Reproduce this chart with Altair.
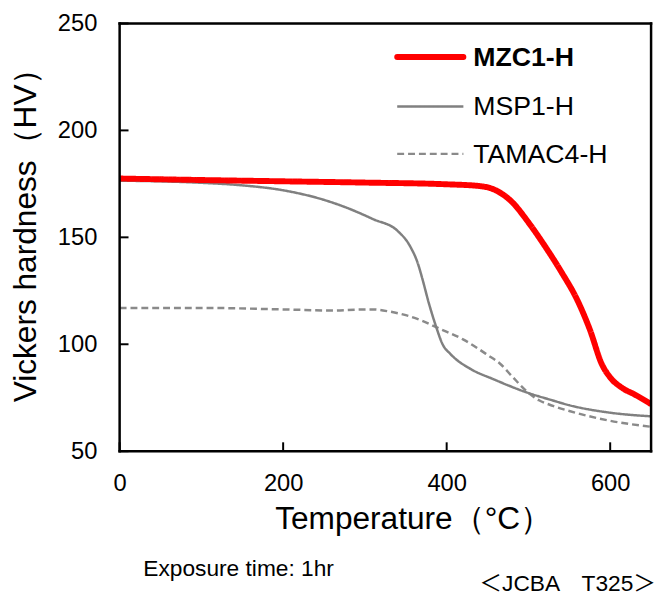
import altair as alt
import pandas as pd

FONT = "Liberation Sans, Noto Sans CJK JP, sans-serif"

# ---- data ----
mzc_temp = [0, 100, 200, 300, 400, 440, 460, 480, 500, 520, 540, 560, 575, 590, 600, 615, 630, 650]
mzc_hv = [177.5, 176.8, 176.2, 175.6, 174.8, 174.0, 172.0, 166.5, 157.0, 146.0, 134.0, 120.5, 107.0, 90.5, 84.5, 79.5, 76.5, 72.0]

msp_temp = [0, 100, 150, 200, 250, 280, 310, 340, 355, 365, 370, 378, 387, 395, 405, 430, 457, 497, 530, 550, 600, 650]
msp_hv = [176.5, 175.5, 174.3, 172.0, 167.5, 163.5, 158.5, 153.0, 146.0, 137.5, 131.0, 119.5, 108.3, 100.0, 95.3, 88.3, 83.7, 77.6, 73.7, 71.5, 68.0, 66.3]

tam_temp = [0, 100, 200, 260, 290, 310, 330, 350, 370, 390, 420, 450, 465, 480, 497, 513, 530, 550, 600, 650]
tam_hv = [117.0, 117.0, 116.3, 115.8, 116.2, 116.3, 115.3, 113.6, 111.0, 107.5, 102.3, 95.0, 91.0, 85.0, 78.3, 73.8, 71.2, 68.8, 64.2, 61.4]

series_names = ["MZC1-H", "MSP1-H", "TAMAC4-H"]
series_colors = ["#ff0000", "#808080", "#8a8a8a"]
series_widths = [6, 2.5, 2.5]
series_dash = [[1, 0], [1, 0], [7, 4]]
series_weight = ["bold", "normal", "normal"]

x_ticks = [0, 200, 400, 600]
y_ticks = [50, 100, 150, 200, 250]

x_title = "Temperature（°C）"
y_title = "Vickers hardness（HV）"
note_left = "Exposure time: 1hr"
note_right = "＜JCBA　T325＞"

# ---- tables ----
frames = []
for name, t, h in [("MZC1-H", mzc_temp, mzc_hv), ("MSP1-H", msp_temp, msp_hv), ("TAMAC4-H", tam_temp, tam_hv)]:
    frames.append(pd.DataFrame({"temp": t, "hv": h, "series": name}))
df = pd.concat(frames, ignore_index=True)

W, H = 538, 433

X = alt.X("temp:Q", scale=alt.Scale(domain=[0, 650], nice=False, zero=False),
          axis=alt.Axis(values=x_ticks, title=x_title, labelFontSize=24, labelPadding=21,
                        labelFlush=False, grid=False, ticks=False, tickSize=0, domain=False,
                        titleFontSize=32, titleFontWeight="normal", titleAlign="left",
                        titleBaseline="alphabetic", titleX=157, titleY=78))
Y = alt.Y("hv:Q", scale=alt.Scale(domain=[50, 250], nice=False, zero=False),
          axis=alt.Axis(values=y_ticks, title=y_title, labelFontSize=24, labelPadding=23,
                        labelFlush=False, grid=False, ticks=False, tickSize=0, domain=False,
                        titleFontSize=32, titleFontWeight="normal", titleAngle=270,
                        titleAlign="left", titleBaseline="alphabetic", titleX=-85, titleY=383))

layers = []
for i in [2, 1, 0]:
    layers.append(
        alt.Chart(df).transform_filter(alt.datum.series == series_names[i])
        .mark_line(color=series_colors[i], strokeWidth=series_widths[i],
                   strokeDash=series_dash[i], interpolate="monotone", clip=True)
        .encode(x=X, y=Y, order="temp:Q")
    )

one = pd.DataFrame({"k": [0]})

# plot frame (black box)
for enc in [dict(x=alt.value(0), x2=alt.value(W), y=alt.value(0)),
            dict(x=alt.value(0), x2=alt.value(W), y=alt.value(H)),
            dict(x=alt.value(0), y=alt.value(0), y2=alt.value(H)),
            dict(x=alt.value(W), y=alt.value(0), y2=alt.value(H))]:
    layers.append(alt.Chart(one).mark_rule(color="black", strokeWidth=2.5, strokeCap="square")
                  .encode(**enc))

# inward tick marks
ytick_df = pd.DataFrame({"hv": y_ticks})
xtick_df = pd.DataFrame({"temp": x_ticks})
layers.append(alt.Chart(ytick_df).mark_rule(color="black", strokeWidth=2)
              .encode(y=Y, x=alt.value(0), x2=alt.value(9)))
layers.append(alt.Chart(xtick_df).mark_rule(color="black", strokeWidth=2)
              .encode(x=X, y=alt.value(H - 9), y2=alt.value(H)))

# manual legend
legend_rows = [34, 84, 132]
for i in range(3):
    cap = "round" if i == 0 else "butt"
    layers.append(alt.Chart(one).mark_rule(color=series_colors[i], strokeWidth=series_widths[i],
                                           strokeDash=series_dash[i], strokeCap=cap)
                  .encode(x=alt.value(281), x2=alt.value(348), y=alt.value(legend_rows[i])))
    layers.append(alt.Chart(one).mark_text(text=series_names[i], font=FONT, fontSize=27,
                                           fontWeight=series_weight[i], align="left",
                                           baseline="middle", color="black")
                  .encode(x=alt.value(358), y=alt.value(legend_rows[i] + 1)))

# notes
layers.append(alt.Chart(one).mark_text(text=note_left, font=FONT, fontSize=23, align="left",
                                       baseline="alphabetic", color="black")
              .encode(x=alt.value(24), y=alt.value(559)))
layers.append(alt.Chart(one).mark_text(text=note_right, font=FONT, fontSize=23, align="right",
                                       baseline="alphabetic", color="black")
              .encode(x=alt.value(543), y=alt.value(575)))

chart = alt.layer(*layers).properties(
    width=W, height=H,
    autosize=alt.AutoSizeParams(type="none"),
    padding={"left": 113, "top": 12, "right": 6, "bottom": 149},
).configure_view(stroke=None).configure_axis(
    grid=False, labelFont=FONT, titleFont=FONT, labelColor="black", titleColor="black",
).configure(background="white")

chart.save("out.html", embed_options={"renderer": "svg", "actions": False})
